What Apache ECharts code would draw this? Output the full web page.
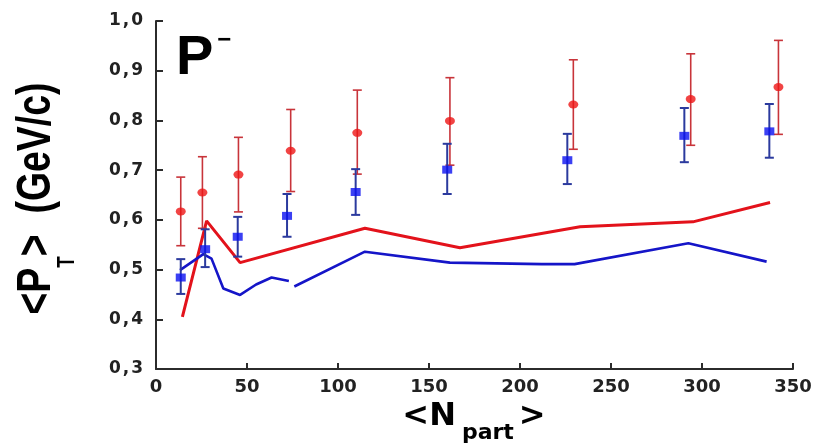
<!DOCTYPE html>
<html>
<head>
<meta charset="utf-8">
<script src="https://cdn.jsdelivr.net/npm/echarts@6/dist/echarts.min.js"></script>
<style>
  html, body { margin: 0; padding: 0; background: #ffffff; }
  #chart { width: 822px; height: 443px; }
</style>
</head>
<body>
<div id="chart"></div>
<script>
// Axis ranges and tick steps
const xMin = 0, xMax = 350, xStep = 50;
const yMin = 0.3, yMax = 1.0, yStep = 0.1;

// Red points: <N_part>, <pT>, error bar low / high
const redX  = [13.6, 25.5, 45.3, 74.0, 110.6, 161.5, 229.3, 293.8, 342.0];
const redY  = [0.617, 0.655, 0.691, 0.739, 0.775, 0.799, 0.832, 0.843, 0.867];
const redLo = [0.548, 0.583, 0.616, 0.657, 0.692, 0.710, 0.742, 0.750, 0.772];
const redHi = [0.686, 0.727, 0.766, 0.822, 0.861, 0.886, 0.922, 0.934, 0.961];

// Blue points
const blueX  = [13.6, 27.0, 44.9, 72.0, 109.7, 160.0, 226.0, 290.3, 337.0];
const blueY  = [0.484, 0.541, 0.566, 0.608, 0.656, 0.701, 0.720, 0.769, 0.778];
const blueLo = [0.451, 0.505, 0.526, 0.566, 0.610, 0.652, 0.672, 0.716, 0.725];
const blueHi = [0.521, 0.581, 0.606, 0.652, 0.702, 0.753, 0.773, 0.825, 0.833];

// Model curves
const redCurveX = [14.5, 27.8, 46.2, 114.8, 167.0, 233.0, 295.0, 337.4];
const redCurveY = [0.405, 0.598, 0.514, 0.583, 0.544, 0.586, 0.596, 0.635];
const blueCurveAX = [13.2, 26.0, 30.5, 37.0, 46.2, 55.0, 63.5, 73.0];
const blueCurveAY = [0.499, 0.531, 0.522, 0.462, 0.449, 0.470, 0.484, 0.477];
const blueCurveBX = [76.0, 114.8, 161.5, 212.0, 230.0, 292.5, 335.5];
const blueCurveBY = [0.466, 0.536, 0.514, 0.511, 0.511, 0.553, 0.516];

const zip = (a, b) => a.map((v, i) => [v, b[i]]);
const zip3 = (a, b, c) => a.map((v, i) => [v, b[i], c[i]]);

const tickFont = '"DejaVu Sans", sans-serif';

function errorBars(color, width, capHalf) {
  return function (params, api) {
    const x = api.value(0);
    const lo = api.coord([x, api.value(1)]);
    const hi = api.coord([x, api.value(2)]);
    const st = { stroke: color, lineWidth: width };
    return {
      type: 'group',
      children: [
        { type: 'line', shape: { x1: lo[0], y1: lo[1], x2: hi[0], y2: hi[1] }, style: st },
        { type: 'line', shape: { x1: lo[0] - capHalf, y1: lo[1], x2: lo[0] + capHalf, y2: lo[1] }, style: st },
        { type: 'line', shape: { x1: hi[0] - capHalf, y1: hi[1], x2: hi[0] + capHalf, y2: hi[1] }, style: st }
      ]
    };
  };
}

const chart = echarts.init(document.getElementById('chart'), null, { renderer: 'canvas' });

chart.setOption({
  animation: false,
  backgroundColor: '#ffffff',
  grid: { left: 156, right: 29, top: 21, bottom: 74, outerBoundsMode: 'none' },
  xAxis: {
    type: 'value', min: xMin, max: xMax, interval: xStep,
    axisLine: { show: true, onZero: false, lineStyle: { color: '#2b2b2b', width: 2 } },
    axisTick: { show: true, inside: true, length: 6, lineStyle: { color: '#2b2b2b', width: 2 } },
    splitLine: { show: false },
    axisLabel: {
      margin: 9, color: '#222222', fontFamily: tickFont, fontWeight: 'bold', fontSize: 18
    }
  },
  yAxis: {
    type: 'value', min: yMin, max: yMax, interval: yStep,
    axisLine: { show: true, onZero: false, lineStyle: { color: '#2b2b2b', width: 2 } },
    axisTick: { show: true, inside: true, length: 7, lineStyle: { color: '#2b2b2b', width: 2 } },
    splitLine: { show: false },
    axisLabel: {
      margin: 13,
      formatter: function (v) {
        const parts = v.toFixed(1).split('.');
        return '{d|' + parts[0] + '}{c|,}{d|' + parts[1] + '}';
      },
      rich: {
        d: { color: '#222222', fontFamily: tickFont, fontWeight: 'bold', fontSize: 17 },
        c: { color: '#222222', fontFamily: tickFont, fontWeight: 'bold', fontSize: 17, padding: [0, 2, 0, 2] }
      }
    }
  },
  graphic: [
    {
      type: 'text', x: 176, y: 58.6, z: 10,
      style: {
        text: '{p|P}{s|\u2212}',
        align: 'left', verticalAlign: 'middle',
        textAlign: 'left', textVerticalAlign: 'middle',
        rich: {
          p: { font: 'bold 56px "Liberation Sans", Arial, sans-serif', fill: '#000000', lineHeight: 60 },
          s: { font: 'bold 24px "Liberation Sans", Arial, sans-serif', fill: '#000000', lineHeight: 24, verticalAlign: 'top', padding: [0, 0, 0, 4] }
        }
      }
    },
    {
      type: 'text', x: 36.4, y: 198.5, rotation: Math.PI / 2, scaleX: 0.78, z: 10,
      style: {
        text: '{m|<P}{s|T}{m|>  (GeV/c)}',
        align: 'center', verticalAlign: 'middle',
        textAlign: 'center', textVerticalAlign: 'middle',
        rich: {
          m: { font: 'bold 48px "Liberation Sans", Arial, sans-serif', fill: '#000000', lineHeight: 85 },
          s: { font: 'bold 24px "Liberation Sans", Arial, sans-serif', fill: '#000000', lineHeight: 24, verticalAlign: 'bottom' }
        }
      }
    },
    {
      type: 'text', x: 474, y: 417, z: 10,
      style: {
        text: '{m|<N}{s|part}{m|>}',
        align: 'center', verticalAlign: 'middle',
        textAlign: 'center', textVerticalAlign: 'middle',
        rich: {
          m: { font: 'bold 32px "DejaVu Sans", sans-serif', fill: '#000000', lineHeight: 55 },
          s: { font: 'bold 22px "DejaVu Sans", sans-serif', fill: '#000000', lineHeight: 22, verticalAlign: 'bottom', padding: [0, 5, 0, 6] }
        }
      }
    }
  ],
  series: [
    {
      name: 'red model', type: 'line', data: zip(redCurveX, redCurveY),
      showSymbol: false, symbol: 'none', z: 2,
      lineStyle: { color: '#e3121b', width: 3 }
    },
    {
      name: 'blue model a', type: 'line', data: zip(blueCurveAX, blueCurveAY),
      showSymbol: false, symbol: 'none', z: 2,
      lineStyle: { color: '#1515c8', width: 2.6 }
    },
    {
      name: 'blue model b', type: 'line', data: zip(blueCurveBX, blueCurveBY),
      showSymbol: false, symbol: 'none', z: 2,
      lineStyle: { color: '#1515c8', width: 2.6 }
    },
    {
      name: 'red errors', type: 'custom', z: 3,
      renderItem: errorBars('#c8343a', 1.6, 4.5),
      encode: { x: 0, y: [1, 2] },
      data: zip3(redX, redLo, redHi)
    },
    {
      name: 'blue errors', type: 'custom', z: 3,
      renderItem: errorBars('#2b3a9e', 2, 4.5),
      encode: { x: 0, y: [1, 2] },
      data: zip3(blueX, blueLo, blueHi)
    },
    {
      name: 'red', type: 'scatter', z: 4, data: zip(redX, redY),
      symbol: 'circle', symbolSize: [10, 8],
      itemStyle: { color: '#ee1515' }
    },
    {
      name: 'blue', type: 'scatter', z: 4, data: zip(blueX, blueY),
      symbol: 'rect', symbolSize: [10, 8],
      itemStyle: { color: '#0a10f0' }
    }
  ]
});
</script>
</body>
</html>
